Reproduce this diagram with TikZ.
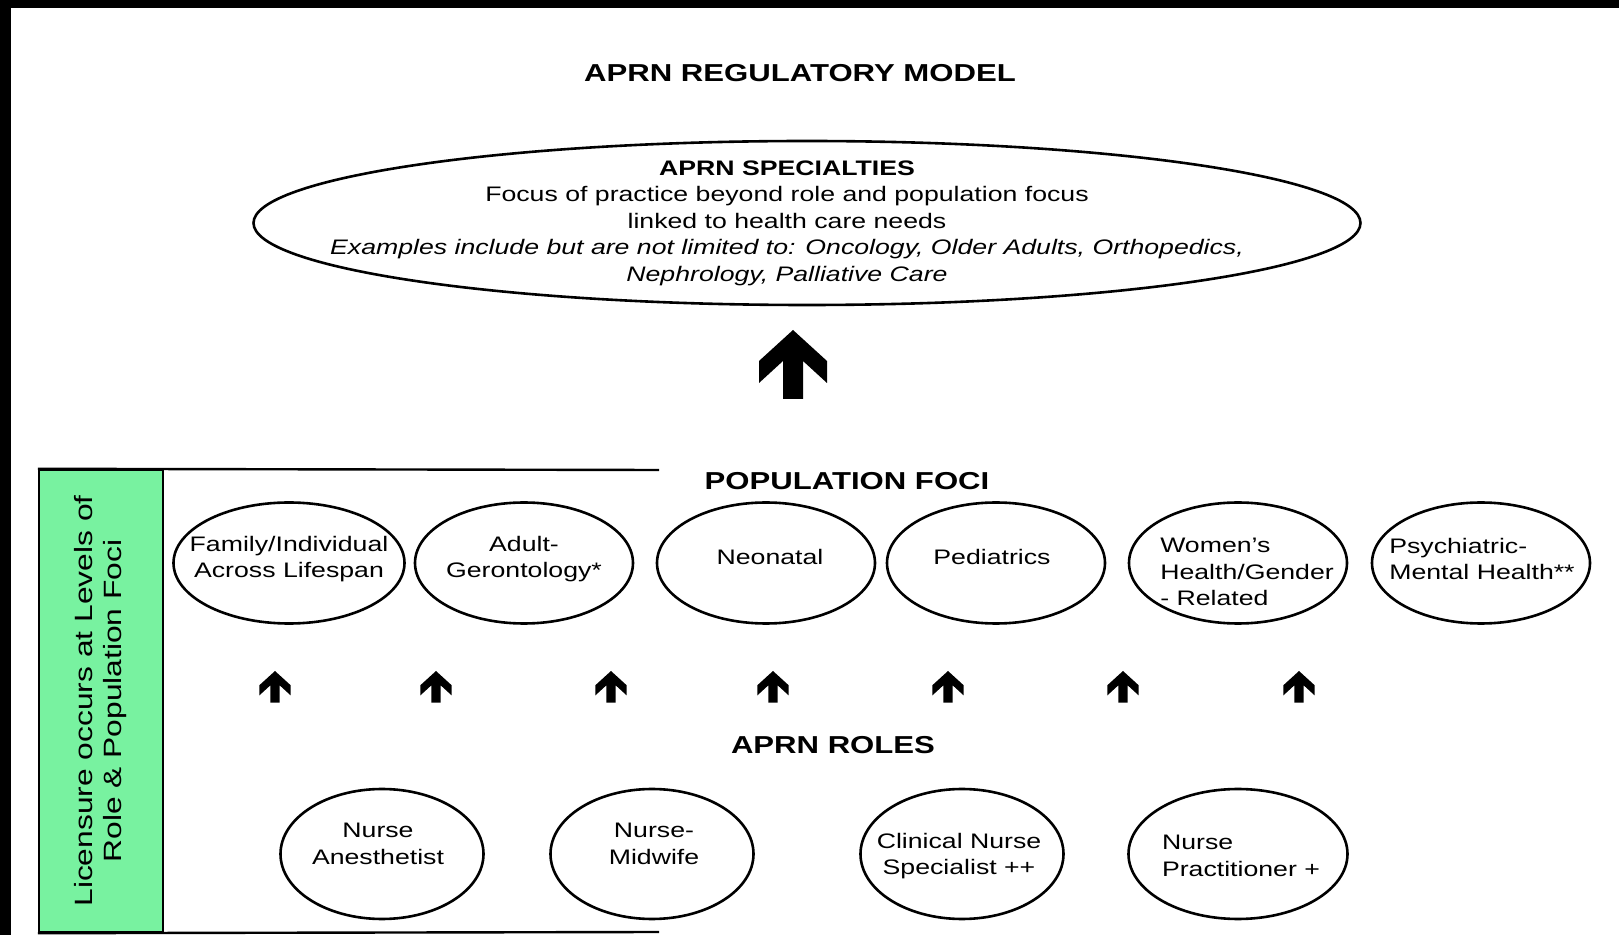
\documentclass[tikz,border=0pt]{standalone}
\usepackage{fontspec}
\setmainfont{Liberation Sans}[FakeStretch=1.27]
\usetikzlibrary{shapes.geometric}
\definecolor{licgreen}{RGB}{120,242,160}
\tikzset{
  oval/.style={ellipse,draw,line width=1.3pt,inner sep=0pt},
  focus/.style={oval,minimum width=109pt,minimum height=60.5pt},
  role/.style={oval,minimum width=101.5pt,minimum height=65pt},
  txt/.style={align=center,inner sep=0pt,font=\fontsize{10.5pt}{13.25pt}\selectfont},
  ltxt/.style={txt,align=left},
  head/.style={inner sep=0pt,font=\bfseries\fontsize{12.25pt}{14pt}\selectfont},
  uparr/.pic={
    \fill (0,0) -- (34,31) -- (34,53) -- (10,31) -- (10,69) -- (-10,69)
      -- (-10,31) -- (-34,53) -- (-34,31) -- cycle;
  }
}
\begin{document}
\begin{tikzpicture}[x=0.5pt,y=-0.5pt]
  \useasboundingbox (0,0) rectangle (1619,935);
  \fill (0,0) rectangle (1619,8);
  \fill (0,0) rectangle (11,935);

  \node[head] (title) at (800,73) {APRN REGULATORY MODEL};

  % specialties
  \node[oval,minimum width=553.5pt,minimum height=82pt] (spec) at (807,223) {};
  \node[txt] (spec-t) at (787,223) {\textbf{APRN SPECIALTIES}\\
    Focus of practice beyond role and population focus\\
    linked to health care needs\\
    \textit{Examples include but are not limited to: Oncology, Older Adults, Orthopedics,}\\
    \textit{Nephrology, Palliative Care}};
  \pic at (793,330) {uparr};

  % licensure box
  \node[draw,fill=licgreen,line width=1.2pt,rotate=90,minimum width=231pt,
    minimum height=62pt,inner sep=0pt,align=center,
    font=\fontsize{12.5pt}{14.5pt}\selectfont] (lic) at (101,701)
    {Licensure occurs at Levels of\\Role \& Population Foci};
  \coordinate (tr) at (659,470);
  \coordinate (br) at (659,932);
  \draw[line width=1.2pt] (lic.north east) -- (tr);
  \draw[line width=1.2pt] (lic.north west) -- (br);

  % population foci
  \node[head] (popf) at (847,481) {POPULATION FOCI};
  \node[focus,minimum width=115.5pt] (fam) at (289,563) {};
  \node[txt] (fam-t) at (289,559) {Family/Individual\\Across Lifespan};
  \node[focus] (adult) at (524,563) {};
  \node[txt] (adult-t) at (524,559) {Adult-\\Gerontology*};
  \node[focus] (neo) at (766,563) {};
  \node[txt] (neo-t) at (770,557) {Neonatal};
  \node[focus] (ped) at (996,563) {};
  \node[txt] (ped-t) at (992,557) {Pediatrics};
  \node[focus] (wom) at (1238,563) {};
  \node[ltxt] (wom-t) at (1247,572) {Women’s\\Health/Gender\\- Related};
  \node[focus] (psy) at (1481,563) {};
  \node[ltxt] (psy-t) at (1482,559) {Psychiatric-\\Mental Health**};

  \foreach \x in {275,436,611,773,948,1123,1299}
    \pic[scale=0.46] at (\x,671) {uparr};

  % roles
  \node[head] (roles) at (833,745) {APRN ROLES};
  \node[role] (anes) at (382,854) {};
  \node[txt] (anes-t) at (378,844) {Nurse\\Anesthetist};
  \node[role] (mid) at (652,854) {};
  \node[txt] (mid-t) at (654,844) {Nurse-\\Midwife};
  \node[role] (cns) at (962,854) {};
  \node[txt] (cns-t) at (959,856) {Clinical Nurse\\Specialist ++};
  \node[role,minimum width=109.5pt] (np) at (1238,854) {};
  \node[ltxt] (np-t) at (1241,856) {Nurse\\Practitioner +};
\end{tikzpicture}
\end{document}
